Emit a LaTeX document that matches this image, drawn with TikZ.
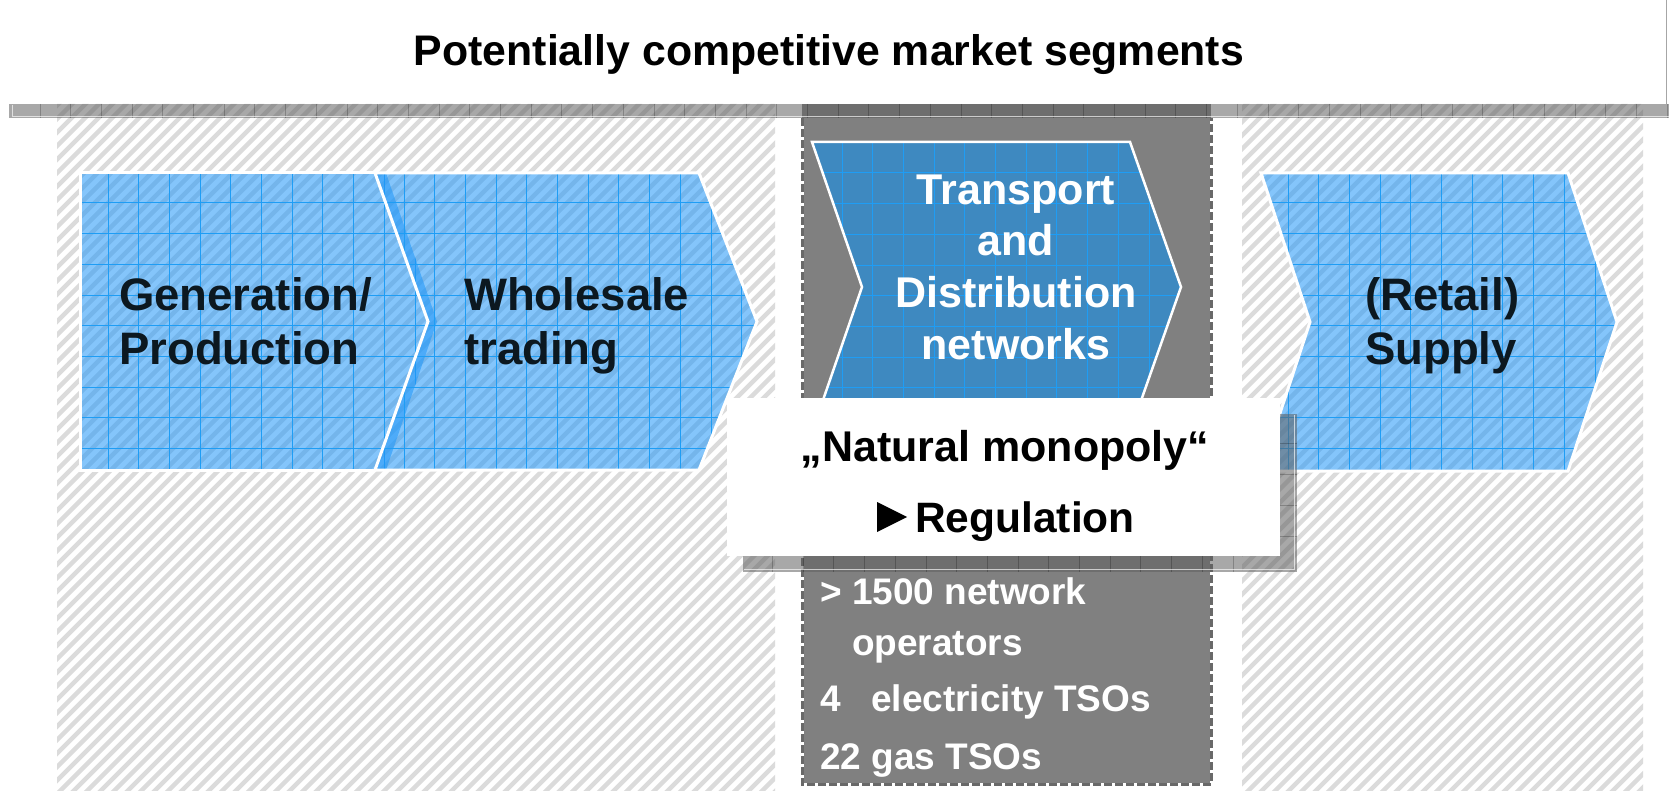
\documentclass[tikz,border=0pt]{standalone}
\usepackage{fontspec}
\setmainfont{Liberation Sans}
\definecolor{cblue}{RGB}{32,151,249}
\definecolor{cgrid}{RGB}{30,157,245}
\definecolor{csteel}{RGB}{62,137,192}
\definecolor{ccol}{RGB}{128,128,128}
\definecolor{cbar}{RGB}{95,95,95}
\definecolor{cdash}{RGB}{105,105,105}
\definecolor{ctext}{RGB}{12,24,32}
\begin{document}
\begin{tikzpicture}[x=1pt,y=-1pt,
  hatchline/.style={draw=gray!28, line width=4.5pt},
  gridl/.style={draw=cgrid, line width=1pt},
  barfill/.style={fill=cbar, fill opacity=0.54},
  tick/.style={draw=black, draw opacity=0.22, line width=1pt},
  bevel/.style={draw=white, draw opacity=0.65, line width=1pt},
  bluefill/.style={fill=cblue, fill opacity=0.55},
  chevtext/.style={inner sep=0pt, text=ctext, font=\fontsize{45.5}{52}\selectfont\bfseries},
  nettext/.style={inner sep=0pt, text=white, font=\fontsize{43}{50}\selectfont\bfseries},
  boxtext/.style={inner sep=0pt, text=black, font=\fontsize{43}{50}\selectfont\bfseries},
  regtext/.style={inner sep=0pt, text=black, font=\fontsize{42.5}{50}\selectfont\bfseries},
  tsotext/.style={inner sep=0pt, text=white, font=\fontsize{37}{44}\selectfont\bfseries},
  titletext/.style={inner sep=0pt, text=black, font=\fontsize{42.8}{50}\selectfont\bfseries},
]
\useasboundingbox (0,0) rectangle (1669,791);
\fill[white] (0,0) rectangle (1669,791);

% hatched backgrounds of the competitive segments
\begin{scope}
  \clip (57,104) rectangle (775,791) (1242,104) rectangle (1643,791);
  \foreach \i in {0,...,176} {
    \draw[hatchline] ({-700+\i*13.5},795) -- ({\i*13.5},95);
  }
\end{scope}

% network column
\fill[ccol] (802,104) rectangle (1211,784);
\draw[white, line width=3pt] (802,118) -- (802,784) -- (1211,784) -- (1211,118);
\draw[cdash, line width=3pt, dash pattern=on 8pt off 3pt] (802,118) -- (802,784) -- (1211,784) -- (1211,118);

% title box edge and header bar
\draw[gray!70, line width=1pt] (1666,0) -- (1666,104);
\fill[barfill] (9,104) rectangle (1669,118);
\foreach \k in {0,...,53} { \draw[tick] ({40+30.7*\k},104) -- ++(0,14); }
\draw[bevel] (12,105) -- (12,116.5) -- (1669,116.5);

% Generation / Production
\fill[bluefill] (80,173) -- (386,173) -- (437,321.5) -- (386,470) -- (80,470) -- cycle;
\begin{scope}
  \clip (80,173) -- (386,173) -- (437,321.5) -- (386,470) -- (80,470) -- cycle;
  \foreach \k in {0,...,10} { \draw[gridl] ({108+30.7*\k},170) -- ++(0,305); }
  \foreach \k in {0,...,8} { \draw[gridl] (75,{203+30.7*\k}) -- ++(370,0); }
\end{scope}
\draw[white, line width=3pt] (376,173) -- (80,173) -- (80,470) -- (376,470);

% Wholesale trading
\fill[bluefill] (375,173) -- (699,173) -- (757,321.5) -- (699,470) -- (375,470) -- (428,321.5) -- cycle;
\begin{scope}
  \clip (375,173) -- (699,173) -- (757,321.5) -- (699,470) -- (375,470) -- (428,321.5) -- cycle;
  \foreach \k in {0,...,11} { \draw[gridl] ({404+30.7*\k},170) -- ++(0,305); }
  \foreach \k in {0,...,8} { \draw[gridl] (370,{203+30.7*\k}) -- ++(395,0); }
\end{scope}
\draw[white, line width=3pt] (375,173) -- (699,173) -- (757,321.5) -- (699,470) -- (375,470) -- (428,321.5) -- cycle;

% (Retail) Supply
\fill[bluefill] (1261,173) -- (1568,173) -- (1617,322) -- (1568,471) -- (1261,471) -- (1310,322) -- cycle;
\begin{scope}
  \clip (1261,173) -- (1568,173) -- (1617,322) -- (1568,471) -- (1261,471) -- (1310,322) -- cycle;
  \foreach \k in {0,...,10} { \draw[gridl] ({1288+30.7*\k},170) -- ++(0,305); }
  \foreach \k in {0,...,8} { \draw[gridl] (1255,{203+30.7*\k}) -- ++(370,0); }
\end{scope}
\draw[white, line width=3pt] (1261,173) -- (1568,173) -- (1617,322) -- (1568,471) -- (1261,471) -- (1310,322) -- cycle;

% Transport and Distribution networks
\fill[csteel] (812,142) -- (1130,142) -- (1181,287) -- (1130,432) -- (812,432) -- (862,287) -- cycle;
\begin{scope}
  \clip (812,142) -- (1130,142) -- (1181,287) -- (1130,432) -- (812,432) -- (862,287) -- cycle;
  \foreach \k in {0,...,11} { \draw[gridl] ({842+30.7*\k},138) -- ++(0,300); }
  \foreach \k in {0,...,8} { \draw[gridl] (805,{173+30.7*\k}) -- ++(385,0); }
\end{scope}
\draw[white, line width=2.5pt] (812,142) -- (1130,142) -- (1181,287) -- (1130,432) -- (812,432) -- (862,287) -- cycle;

% shadow frame behind the regulation box
\fill[barfill] (743,414) rectangle (1297,572);
\begin{scope}
  \clip (743,414) rectangle (1297,572);
  \foreach \k in {0,...,16} { \draw[tick] ({1233-30.7*\k},556) -- ++(0,16); }
  \foreach \k in {0,...,5} { \draw[tick] (1280,{536-30.7*\k}) -- ++(17,0); }
\end{scope}
\draw[bevel] (1294,415) -- (1294,569) -- (744,569);

% regulation box
\fill[white] (727,398) rectangle (1280,556);

% texts
\node[titletext, anchor=base] (title) at (829,66) {Potentially competitive market segments};

\node[chevtext, anchor=base west] (gen1) at (119,310) {Generation/};
\node[chevtext, anchor=base west] (gen2) at (119,364) {Production};
\node[chevtext, anchor=base west] (whs1) at (464,310) {Wholesale};
\node[chevtext, anchor=base west] (whs2) at (464,364) {trading};
\node[chevtext, anchor=base west] (ret1) at (1365,310) {(Retail)};
\node[chevtext, anchor=base west] (ret2) at (1365,364) {Supply};

\node[nettext, anchor=base] (net1) at (1016,205) {Transport};
\node[nettext, anchor=base] (net2) at (1016,256) {and};
\node[nettext, anchor=base] (net3) at (1016,307.5) {Distribution};
\node[nettext, anchor=base] (net4) at (1016,359) {networks};

\node[boxtext, anchor=base] (mono) at (1005,461) {„Natural monopoly“};
\fill[black] (877,502) -- (907,517) -- (877,532) -- cycle;
\node[regtext, anchor=base west] (regu) at (915,532) {Regulation};

\node[tsotext, anchor=base west] (ops1) at (820,604) {> 1500 network};
\node[tsotext, anchor=base west] (ops2) at (852,655) {operators};
\node[tsotext, anchor=base west] (tso1n) at (820,711) {4};
\node[tsotext, anchor=base west] (tso1) at (871,711) {electricity TSOs};
\node[tsotext, anchor=base west] (tso2) at (820,769) {22 gas TSOs};
\end{tikzpicture}
\end{document}
